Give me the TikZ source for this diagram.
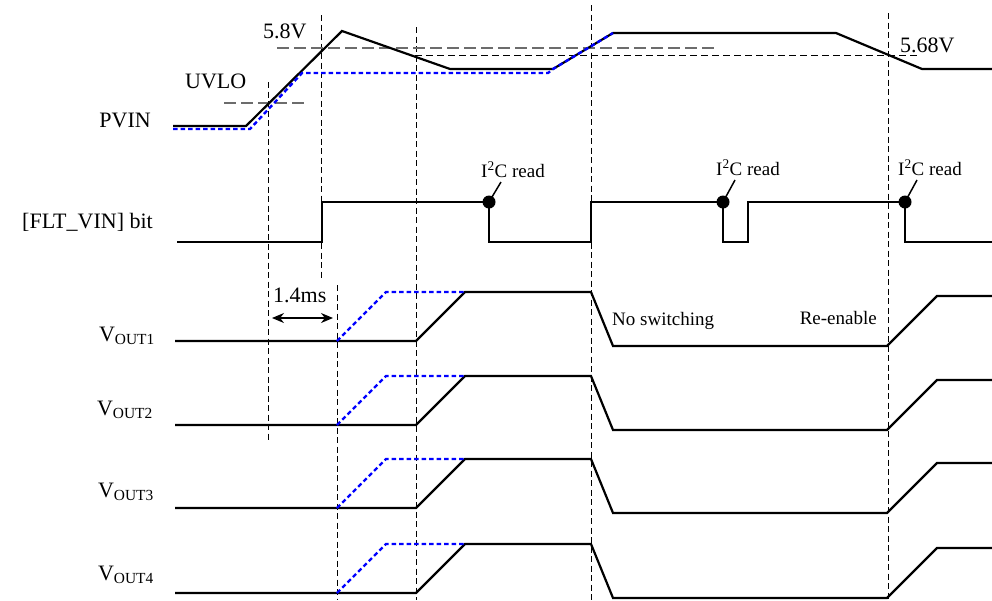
\documentclass[tikz,border=0pt]{standalone}
\usepackage{fontspec}
\setmainfont{Liberation Serif}
\usetikzlibrary{arrows.meta}
\begin{document}
\begin{tikzpicture}[x=1pt,y=-1pt,
 sig/.style={line width=2.2pt, line join=miter},
 blu/.style={blue, line width=2.4pt, dash pattern=on 4.5pt off 3pt},
 vdash/.style={line width=0.9pt, dash pattern=on 6pt off 3.5pt},
 gdash/.style={gray!85!black, line width=1.3pt, dash pattern=on 12pt off 5pt},
 kdash/.style={line width=1pt, dash pattern=on 7pt off 4pt},
 big/.style={font=\fontsize{22}{24}\selectfont, inner sep=0pt},
 small/.style={font=\fontsize{19}{21}\selectfont, inner sep=0pt},
 dot/.style={circle, fill, inner sep=0pt, minimum size=13pt},
 lead/.style={line width=1.5pt},
 dim/.style={line width=1.2pt, {Stealth[length=12pt,width=10pt]}-{Stealth[length=12pt,width=10pt]}},
]
\useasboundingbox (0,0) rectangle (992,600);

% vertical dashed guides
\draw[vdash] (268,82) -- (268,440);
\draw[vdash] (321,15) -- (321,280);
\draw[vdash] (337,285) -- (337,600);
\draw[vdash] (416,27) -- (416,600);
\draw[vdash] (591,5) -- (591,600);
\draw[vdash] (888,13) -- (888,600);

% horizontal level lines
\draw[gdash] (224,103) -- (307,103);
\draw[gdash] (277,48) -- (715,48);
\draw[kdash] (415,55) -- (920,55);

% PVIN
\draw[sig] (173,126) -- (246,126) -- (342,31) -- (450,69) -- (553,69) -- (613,33) -- (836,33) -- (922,69) -- (992,69);
\draw[blu] (173,129) -- (250,129) -- (302,73) -- (548,73) -- (553,69) -- (613,33);

% FLT_VIN bit
\draw[sig] (177,242) -- (322,242) -- (322,202) -- (489,202) -- (489,242) -- (591,242) -- (591,202) -- (723,202) -- (723,242) -- (748,242) -- (748,202) -- (905,202) -- (905,242) -- (992,242);

% VOUT waveforms
\foreach \B in {341,425,508,593}{
  \draw[sig] (175,\B) -- (416,\B) -- (465,\B-49) -- (591,\B-49) -- (613,\B+5) -- (887,\B+5) -- (937,\B-45) -- (992,\B-45);
  \draw[blu] (337,\B) -- (386,\B-49) -- (465,\B-49);
}

% I2C read markers
\node[dot] (d1) at (489,202) {};
\node[dot] (d2) at (723,202) {};
\node[dot] (d3) at (905,202) {};
\coordinate (e1) at (501,182);
\coordinate (e2) at (735,180);
\coordinate (e3) at (917,180);
\draw[lead] (d1.center) -- (e1);
\draw[lead] (d2.center) -- (e2);
\draw[lead] (d3.center) -- (e3);
\node[small, anchor=base west] (i2c1) at (481,177) {I\textsuperscript{2}C read};
\node[small, anchor=base west] (i2c2) at (716,175) {I\textsuperscript{2}C read};
\node[small, anchor=base west] (i2c3) at (898,175) {I\textsuperscript{2}C read};

% 1.4ms dimension
\coordinate (a1) at (272,318);
\coordinate (a2) at (333,318);
\draw[dim] (a1) -- (a2);
\node[big, anchor=base west] (t14) at (273,302) {1.4ms};

% labels
\node[big, anchor=base east] (pvin) at (151,127) {PVIN};
\node[big, anchor=base east] (flt) at (153,228) {[FLT\_VIN] bit};
\node[big, anchor=base east] (v1) at (155,341) {V\textsubscript{OUT1}};
\node[big, anchor=base east] (v2) at (153,415) {V\textsubscript{OUT2}};
\node[big, anchor=base east] (v3) at (154,497) {V\textsubscript{OUT3}};
\node[big, anchor=base east] (v4) at (154,580) {V\textsubscript{OUT4}};
\node[big, anchor=base west] (uvlo) at (185,88) {UVLO};
\node[big, anchor=base west] (v58) at (263,38) {5.8V};
\node[big, anchor=base west] (v568) at (900,52) {5.68V};
\node[small, anchor=base west] (nosw) at (612,325) {No switching};
\node[small, anchor=base east] (reen) at (877,324) {Re-enable};
\end{tikzpicture}
\end{document}
